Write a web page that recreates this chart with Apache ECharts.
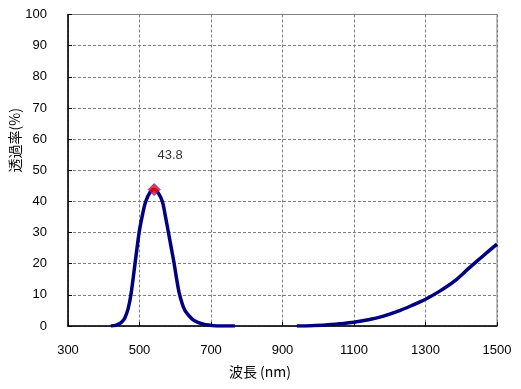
<!DOCTYPE html>
<html><head><meta charset="utf-8">
<script src="https://cdn.jsdelivr.net/npm/echarts@6/dist/echarts.min.js"></script>
<style>html,body{margin:0;padding:0;background:#fff}#c{width:521px;height:389px}</style>
</head><body><div id="c"></div>
<script>
// Data
const wavelength = [420,435,445,452,459,468,476,487,499,508,517,530,541,552,564,572,581,589,597,604,611,619,627,639,651,665,679,693,707,740,767,
                    850,
                    940,980,1020,1060,1100,1140,1180,1220,1260,1300,1340,1380,1420,1460,1500];
const transmittance = [0,0.3,0.8,1.5,2.6,5.5,10.0,19.6,30.0,35.5,39.8,43.0,43.8,42.8,40.0,35.5,30.0,25.0,20.0,15.0,10.6,7.3,5.0,3.2,1.9,1.1,0.6,0.3,0.1,0.02,0,
                    null,
                    0,0.1,0.3,0.7,1.2,2.0,3.1,4.6,6.5,8.6,11.2,14.3,18.4,22.4,26.3];
const peakPoint = [541, 43.8];
const peakLabel = '43.8';
const xTicks = {min: 300, max: 1500, interval: 200};
const yTicks = {min: 0, max: 100, interval: 10};

const lineData = wavelength.map((w, i) => [w, transmittance[i]]);
const font = 'Liberation Sans, Arial, sans-serif';
const cjk = 'Noto Sans CJK JP, sans-serif';

const chart = echarts.init(document.getElementById('c'), null, {renderer: 'canvas'});
chart.setOption({
  animation: false,
  backgroundColor: '#fff',
  grid: {left: 68, right: 24, top: 14.5, bottom: 63, containLabel: false, outerBoundsMode: 'none',
         show: true, borderColor: '#808080', borderWidth: 1, backgroundColor: 'transparent'},
  xAxis: {
    type: 'value', min: xTicks.min, max: xTicks.max, interval: xTicks.interval,
    name: '波長 (nm)', nameLocation: 'middle', nameGap: 39,
    nameTextStyle: {fontFamily: cjk, fontSize: 14, color: '#000', padding: [0, 45, 0, 0]},
    axisLine: {show: true, onZero: false, lineStyle: {color: '#000', width: 1.5}},
    axisTick: {show: true, inside: true, length: 4, lineStyle: {color: '#000'}},
    axisLabel: {fontFamily: font, fontSize: 13, color: '#000', margin: 18, formatter: v => String(v)},
    splitLine: {show: true, lineStyle: {color: '#808080', type: [3, 2], width: 1}}
  },
  yAxis: {
    type: 'value', min: yTicks.min, max: yTicks.max, interval: yTicks.interval,
    name: '透過率(%)', nameLocation: 'middle', nameGap: 46, nameMoveOverlap: false,
    nameTextStyle: {fontFamily: cjk, fontSize: 14, color: '#000', padding: [0, 0, 0, 60]},
    axisLine: {show: true, onZero: false, lineStyle: {color: '#000', width: 1.5}},
    axisTick: {show: true, inside: true, length: 4, lineStyle: {color: '#000'}},
    axisLabel: {fontFamily: font, fontSize: 13, color: '#000', margin: 21, formatter: v => String(v)},
    splitLine: {show: true, lineStyle: {color: '#808080', type: [3, 2], width: 1}}
  },
  series: [
    {
      type: 'line', data: lineData, showSymbol: false, smooth: 0.3, connectNulls: false,
      lineStyle: {color: '#000080', width: 3.5}, z: 3
    },
    {
      type: 'scatter', data: [peakPoint], symbol: 'diamond', symbolSize: 12,
      itemStyle: {color: '#ff0000', borderColor: '#3333ff', borderWidth: 1}, z: 5,
      label: {show: true, position: 'top', distance: 5, offset: [16, -16],
        formatter: () => peakLabel, fontFamily: font, fontSize: 13, color: '#000'}
    }
  ]
});
</script></body></html>
